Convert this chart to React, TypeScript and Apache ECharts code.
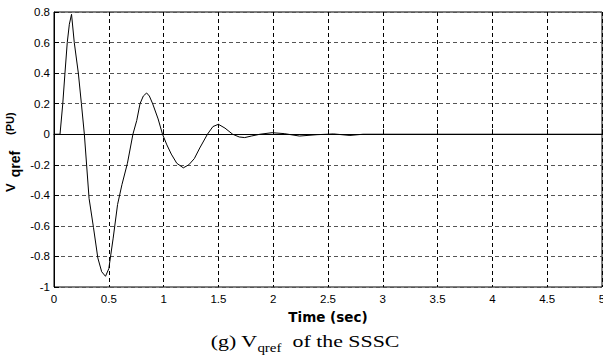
import React, { useEffect, useRef } from "react";
import * as echarts from "echarts";

const times = [0, 0.055, 0.08, 0.1, 0.121, 0.14, 0.16, 0.185, 0.222, 0.25, 0.277, 0.32, 0.36, 0.4, 0.435, 0.47, 0.5, 0.54, 0.58, 0.62, 0.67, 0.72, 0.755, 0.785, 0.815, 0.845, 0.87, 0.9, 0.95, 0.99, 1.03, 1.07, 1.12, 1.18, 1.23, 1.28, 1.33, 1.4, 1.45, 1.5, 1.56, 1.63, 1.69, 1.74, 1.8, 1.88, 1.99, 2.1, 2.24, 2.4, 2.55, 2.7, 2.82, 5];
const values = [0, 0, 0.2, 0.4, 0.6, 0.72, 0.785, 0.6, 0.4, 0.2, 0, -0.42, -0.61, -0.81, -0.9, -0.93, -0.88, -0.68, -0.46, -0.33, -0.19, 0, 0.09, 0.2, 0.25, 0.27, 0.25, 0.2, 0.1, 0, -0.07, -0.13, -0.19, -0.22, -0.2, -0.16, -0.09, 0, 0.05, 0.065, 0.04, 0, -0.018, -0.022, -0.012, 0, 0.01, 0.004, -0.012, -0.003, 0.002, -0.008, 0, 0];

const xTicks = { min: 0, max: 5, interval: 0.5 };
const yTicks = { min: -1, max: 0.8, interval: 0.2 };

export default function App() {
  const ref = useRef<HTMLDivElement>(null);
  useEffect(() => {
    if (!ref.current) return;
    const chart = echarts.init(ref.current, null, { renderer: "svg" });
    const data = times.map((t, i) => [t, values[i]]);
    const tickFont = { color: "#000", fontFamily: "Liberation Sans", fontSize: 11.5 };
    chart.setOption({
      animation: false,
      backgroundColor: "#fff",
      grid: { left: 54, right: 1, top: 12, bottom: 76, show: true, borderColor: "#000", borderWidth: 1, backgroundColor: "transparent", containLabel: false, outerBoundsMode: "none" },
      xAxis: {
        type: "value",
        min: xTicks.min,
        max: xTicks.max,
        interval: xTicks.interval,
        axisLine: { show: true, lineStyle: { color: "#000", width: 1 } },
        axisTick: { show: true, inside: true, length: 5, lineStyle: { color: "#000" } },
        axisLabel: { ...tickFont, margin: 6 },
        splitLine: { show: true, lineStyle: { color: "#000", type: [4, 3], width: 1 } },
        name: "Time (sec)",
        nameLocation: "middle",
        nameGap: 22,
        nameTextStyle: { color: "#000", fontFamily: "DejaVu Sans", fontWeight: "bold", fontSize: 13.5 },
      },
      yAxis: {
        type: "value",
        min: yTicks.min,
        max: yTicks.max,
        interval: yTicks.interval,
        axisLine: { show: true, lineStyle: { color: "#000", width: 1 } },
        axisTick: { show: true, inside: true, length: 5, lineStyle: { color: "#000" } },
        axisLabel: { ...tickFont, margin: 4 },
        splitLine: { show: true, lineStyle: { color: "#555", type: [4, 3], width: 1 } },
      },
      series: [
        {
          type: "line",
          data,
          showSymbol: false,
          lineStyle: { color: "#000", width: 1 },
          itemStyle: { color: "#000" },
        },
      ],
      graphic: [
        {
          type: "group",
          x: 4,
          y: 192,
          rotation: Math.PI / 2,
          children: [
            {
              type: "text",
              x: 0,
              y: 0,
              style: {
                text: "{v|V}{s|qref}{n|(PU)}",
                align: "left",
                verticalAlign: "top",
                rich: {
                  v: { fontFamily: "Liberation Sans", fontWeight: "bold", fontSize: 13, lineHeight: 15, verticalAlign: "top", fill: "#000" },
                  s: { fontFamily: "Liberation Sans", fontWeight: "bold", fontSize: 14, lineHeight: 15, verticalAlign: "top", padding: [3.5, 0, 0, 6], fill: "#000" },
                  n: { fontFamily: "Liberation Sans", fontWeight: "bold", fontSize: 11, lineHeight: 15, verticalAlign: "top", padding: [0, 0, 0, 16], fill: "#000" },
                },
              },
            },
          ],
        },
        {
          type: "text",
          x: 305,
          y: 332,
          scaleX: 1.25,
          style: {
            text: "{a|(g) V}{b|qref}{a|  of the SSSC}",
            align: "center",
            verticalAlign: "top",
            rich: {
              a: { fontFamily: "Liberation Serif", fontSize: 17.5, lineHeight: 20, verticalAlign: "top", fill: "#000" },
              b: { fontFamily: "Liberation Serif", fontSize: 12, lineHeight: 14, verticalAlign: "top", padding: [10, 0, 0, 0], fill: "#000" },
            },
          },
        },
      ],
    });
    return () => chart.dispose();
  }, []);
  return <div ref={ref} style={{ position: "fixed", left: 0, top: 0, width: 603, height: 363, background: "#fff" }} />;
}
